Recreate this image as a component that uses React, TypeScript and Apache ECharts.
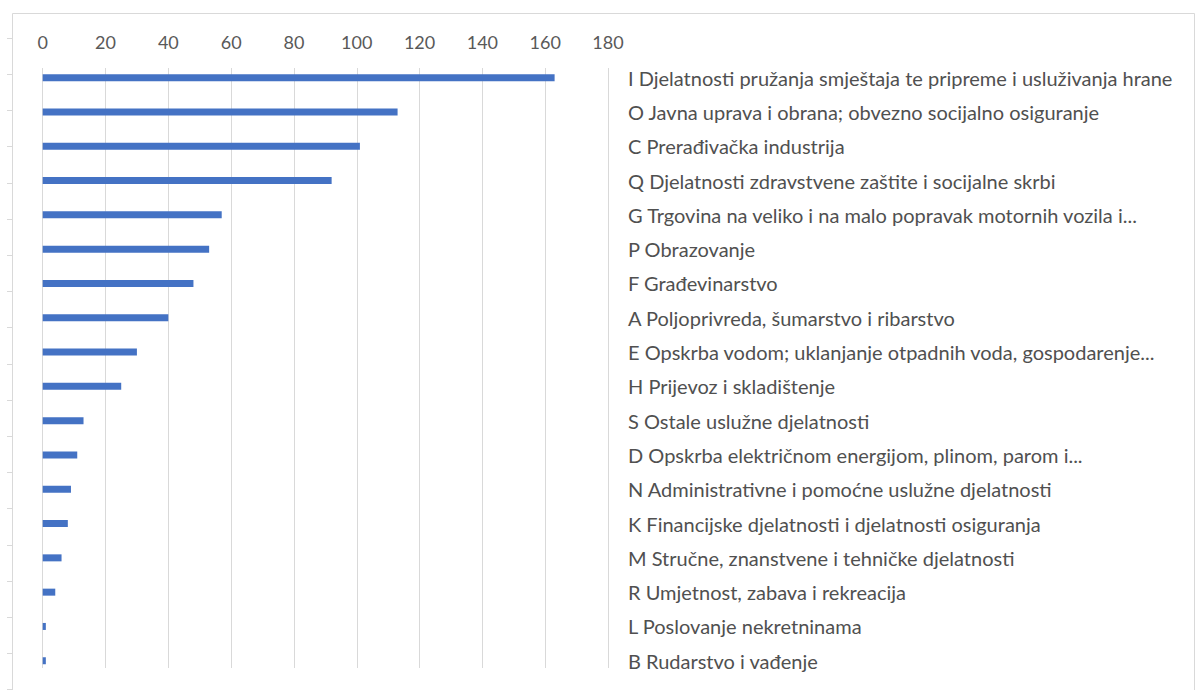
import React, { useEffect, useRef } from "react";
import * as echarts from "echarts";

const categories = [
  "I Djelatnosti pružanja smještaja te pripreme i usluživanja hrane",
  "O Javna uprava i obrana; obvezno socijalno osiguranje",
  "C Prerađivačka industrija",
  "Q Djelatnosti zdravstvene zaštite i socijalne skrbi",
  "G Trgovina na veliko i na malo popravak motornih vozila i...",
  "P Obrazovanje",
  "F Građevinarstvo",
  "A Poljoprivreda, šumarstvo i ribarstvo",
  "E Opskrba vodom; uklanjanje otpadnih voda, gospodarenje...",
  "H Prijevoz i skladištenje",
  "S Ostale uslužne djelatnosti",
  "D Opskrba električnom energijom, plinom, parom i...",
  "N Administrativne i pomoćne uslužne djelatnosti",
  "K Financijske djelatnosti i djelatnosti osiguranja",
  "M Stručne, znanstvene i tehničke djelatnosti",
  "R Umjetnost, zabava i rekreacija",
  "L Poslovanje nekretninama",
  "B Rudarstvo i vađenje",
];

const values = [163, 113, 101, 92, 57, 53, 48, 40, 30, 25, 13, 11, 9, 8, 6, 4, 1, 1];

const xMin = 0;
const xMax = 180;
const xInterval = 20;

export default function App() {
  const ref = useRef<HTMLDivElement>(null);
  useEffect(() => {
    if (!ref.current) return;
    const chart = echarts.init(ref.current, null, { renderer: "svg" });
    const gridLeft = 42.7;
    const gridRight = 1195 - 608;
    chart.setOption({
      animation: false,
      backgroundColor: "#ffffff",
      textStyle: { fontFamily: "Lato" },
      grid: [
        { left: gridLeft, right: gridRight, top: 60.5, height: 617.4 },
        { left: gridLeft, right: gridRight, top: 68, height: 600 },
        { left: 12, width: 10, top: 38, height: 651.6 },
      ],
      xAxis: [
        {
          gridIndex: 0,
          type: "value",
          min: xMin,
          max: xMax,
          interval: xInterval,
          show: false,
        },
        {
          gridIndex: 1,
          type: "value",
          position: "top",
          min: xMin,
          max: xMax,
          interval: xInterval,
          axisLine: { show: false },
          axisTick: { show: false },
          splitLine: { show: true, lineStyle: { color: "#d9d9d9", width: 1 } },
          axisLabel: {
            margin: 17,
            color: "#595959",
            fontSize: 18,
            fontFamily: "Lato",
          },
        },
        { gridIndex: 2, type: "value", show: false, min: 0, max: 1 },
      ],
      yAxis: [
        {
          gridIndex: 0,
          type: "category",
          data: categories,
          inverse: true,
          position: "right",
          axisLine: { show: false },
          axisTick: { show: false },
          splitLine: { show: false },
          axisLabel: {
            margin: 20,
            color: "#505050",
            fontSize: 20,
            fontFamily: "Lato",
            align: "left",
          },
        },
        { gridIndex: 1, type: "value", min: 0, max: 1, show: false },
        {
          gridIndex: 2,
          type: "category",
          data: categories,
          position: "left",
          axisLine: { show: true, lineStyle: { color: "#d9d9d9" } },
          axisTick: { show: true, length: 5, lineStyle: { color: "#d9d9d9" } },
          axisLabel: { show: false },
          splitLine: { show: false },
        },
      ],
      graphic: [
        {
          type: "rect",
          shape: { x: 12.5, y: 13.5, width: 1182, height: 700 },
          style: { fill: "none", stroke: "#d9d9d9", lineWidth: 1 },
          silent: true,
        },
      ],
      series: [
        {
          type: "bar",
          xAxisIndex: 0,
          yAxisIndex: 0,
          data: values,
          barWidth: 7,
          itemStyle: { color: "#4472C4" },
        },
      ],
    });
    return () => chart.dispose();
  }, []);
  return (
    <div
      ref={ref}
      style={{ position: "fixed", left: 0, top: 0, width: 1195, height: 690 }}
    />
  );
}
